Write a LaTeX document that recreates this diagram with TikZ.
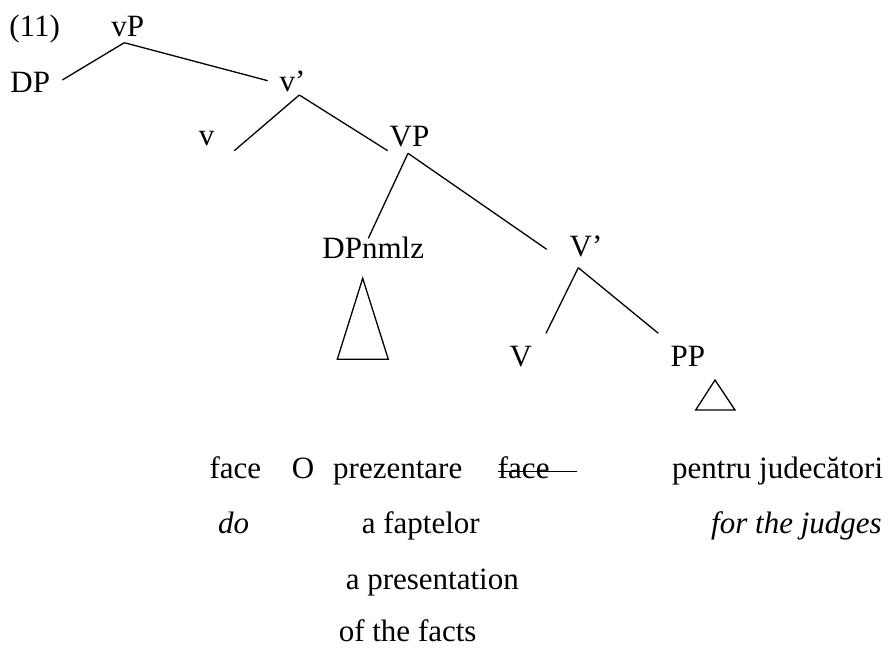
\documentclass[tikz,border=0pt]{standalone}
\usepackage{fontspec}
\setmainfont{Liberation Serif}
\newfontfamily\tnr{Liberation Serif}
\begin{document}
\begin{tikzpicture}[x=1pt,y=-1pt,
  lbl/.style={anchor=base west,inner sep=0pt,font=\tnr\fontsize{31}{37}\selectfont},
  ilbl/.style={lbl,font=\tnr\fontsize{31}{37}\selectfont\itshape},
  edge/.style={line width=1.3pt},
  tri/.style={line width=1.3pt,line join=miter}]
\useasboundingbox (0,0) rectangle (890,647);
% labels
\node[lbl] (n11) at (9.2,36.7) {(11)};
\node[lbl] (vP) at (111.1,36.7) {vP};
\node[lbl] (DP) at (10.2,92.3) {DP};
\node[lbl] (vbar) at (279.4,91.7) {v’};
\node[lbl] (v) at (198.7,145.7) {v};
\node[lbl] (VP) at (389.5,146.7) {VP};
\node[lbl] (DPn) at (322.2,258.3) {DPnmlz};
\node[lbl] (Vbar) at (569.5,256.7) {V’};
\node[lbl] (V) at (509.5,366.7) {V};
\node[lbl] (PP) at (670.5,366.7) {PP};
% bottom text
\node[lbl] (face1) at (209.4,478) {face};
\node[lbl] (O) at (291.7,478) {O};
\node[lbl] (prez) at (333,478) {prezentare};
\node[lbl] (face2) at (497.7,478) {face};
\node[lbl] (pentru) at (672,478) {pentru judecători};
\node[ilbl] (do) at (217.8,533.5) {do};
\node[lbl] (fapt) at (361.6,533.5) {a faptelor};
\node[ilbl] (forj) at (711,533.5) {for the judges};
\node[lbl] (pres) at (345.6,589.5) {a presentation};
\node[lbl] (facts) at (338.6,641.7) {of the facts};
% connector end points
\coordinate (vPb) at (124.3,42.7);
\coordinate (DPe) at (62.3,80);
\coordinate (vbt) at (267.7,80.7);
\coordinate (vbb) at (299.3,95);
\coordinate (vt) at (234.3,150.7);
\coordinate (VPt) at (387.7,150.7);
\coordinate (VPb) at (408,153.3);
\coordinate (DPnt) at (368.3,238.3);
\coordinate (Vbt) at (546.7,249.3);
\coordinate (Vbb) at (578.3,267.7);
\coordinate (Vt) at (546,333.3);
\coordinate (PPt) at (658.3,333.3);
\coordinate (strikeend) at (576.7,471.5);
% edges
\draw[edge] (vPb) -- (DPe);
\draw[edge] (vPb) -- (vbt);
\draw[edge] (vbb) -- (vt);
\draw[edge] (vbb) -- (VPt);
\draw[edge] (VPb) -- (DPnt);
\draw[edge] (VPb) -- (Vbt);
\draw[edge] (Vbb) -- (Vt);
\draw[edge] (Vbb) -- (PPt);
% triangles
\draw[tri] (362.7,278.3) -- (337.3,359.3) -- (388.3,359.3) -- cycle;
\draw[tri] (715,380) -- (695.7,410) -- (735,410) -- cycle;
% strike-through
\draw[line width=1.3pt] (face2.west |- strikeend) -- (strikeend);
\end{tikzpicture}
\end{document}
